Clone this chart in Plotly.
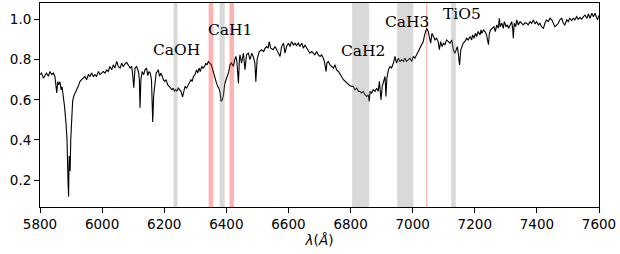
import plotly.graph_objects as go

wavelength = [
    5800, 5805, 5811, 5816, 5821, 5827, 5832, 5838, 5843, 5848, 5852, 5854, 5857, 5860, 5864, 5868,
    5871, 5875, 5879, 5884, 5887, 5890, 5892, 5894, 5897, 5899, 5902, 5905, 5909, 5914, 5918, 5923,
    5929, 5934, 5940, 5945, 5950, 5956, 5961, 5966, 5972, 5977, 5982, 5988, 5993, 5999, 6004, 6009,
    6015, 6020, 6025, 6031, 6036, 6041, 6047, 6052, 6058, 6063, 6068, 6074, 6079, 6084, 6090, 6095,
    6098, 6102, 6106, 6111, 6117, 6120, 6122, 6125, 6129, 6134, 6138, 6143, 6147, 6151, 6155, 6159,
    6161, 6163, 6166, 6170, 6174, 6178, 6181, 6185, 6189, 6193, 6197, 6202, 6206, 6211, 6216, 6220,
    6225, 6229, 6233, 6237, 6241, 6245, 6250, 6254, 6259, 6263, 6267, 6272, 6277, 6281, 6286, 6290,
    6294, 6299, 6304, 6308, 6312, 6316, 6321, 6325, 6330, 6334, 6338, 6342, 6347, 6351, 6355, 6359,
    6363, 6367, 6372, 6376, 6380, 6383, 6387, 6391, 6395, 6399, 6403, 6408, 6412, 6416, 6420, 6423,
    6427, 6431, 6434, 6437, 6439, 6442, 6444, 6449, 6455, 6460, 6465, 6471, 6476, 6482, 6487, 6492,
    6495, 6499, 6506, 6514, 6520, 6525, 6530, 6535, 6538, 6543, 6551, 6557, 6562, 6567, 6573, 6578,
    6584, 6589, 6594, 6600, 6605, 6610, 6616, 6621, 6626, 6632, 6637, 6643, 6648, 6653, 6659, 6664,
    6669, 6675, 6680, 6685, 6691, 6696, 6702, 6707, 6712, 6716, 6719, 6721, 6724, 6728, 6734, 6739,
    6745, 6750, 6755, 6761, 6766, 6771, 6777, 6782, 6788, 6793, 6798, 6804, 6809, 6814, 6820, 6825,
    6830, 6836, 6841, 6846, 6852, 6857, 6860, 6863, 6868, 6873, 6879, 6884, 6889, 6893, 6898, 6902,
    6907, 6911, 6914, 6917, 6922, 6927, 6932, 6938, 6943, 6948, 6954, 6959, 6964, 6970, 6975, 6980,
    6986, 6991, 6997, 7002, 7007, 7013, 7018, 7023, 7029, 7034, 7038, 7042, 7045, 7050, 7054, 7058,
    7062, 7067, 7072, 7077, 7082, 7086, 7090, 7095, 7099, 7104, 7109, 7115, 7120, 7126, 7131, 7136,
    7140, 7144, 7148, 7151, 7155, 7159, 7163, 7168, 7174, 7179, 7185, 7190, 7193, 7198, 7202, 7206,
    7211, 7217, 7220, 7223, 7228, 7233, 7238, 7244, 7247, 7251, 7258, 7262, 7266, 7271, 7276, 7279,
    7282, 7287, 7292, 7295, 7301, 7305, 7309, 7313, 7319, 7322, 7324, 7327, 7332, 7335, 7340, 7346,
    7351, 7356, 7362, 7367, 7372, 7378, 7383, 7389, 7394, 7399, 7405, 7410, 7415, 7421, 7426, 7431,
    7437, 7442, 7448, 7453, 7458, 7464, 7469, 7474, 7480, 7485, 7490, 7496, 7501, 7506, 7512, 7517,
    7522, 7528, 7533, 7539, 7544, 7550, 7555, 7561, 7566, 7571, 7577, 7582, 7587, 7595, 7598, 7600,
]

flux = [
    0.725, 0.733, 0.708, 0.725, 0.733, 0.717, 0.741, 0.725, 0.733, 0.716, 0.670, 0.634, 0.690, 0.675, 0.690, 0.650,
    0.665, 0.617, 0.567, 0.477, 0.402, 0.204, 0.118, 0.320, 0.245, 0.400, 0.551, 0.592, 0.620, 0.642, 0.650, 0.667,
    0.692, 0.700, 0.708, 0.716, 0.700, 0.725, 0.716, 0.733, 0.716, 0.725, 0.716, 0.741, 0.725, 0.733, 0.741, 0.733,
    0.749, 0.741, 0.766, 0.749, 0.774, 0.758, 0.791, 0.766, 0.758, 0.782, 0.766, 0.779, 0.786, 0.774, 0.758, 0.766,
    0.733, 0.660, 0.758, 0.766, 0.741, 0.700, 0.560, 0.700, 0.741, 0.725, 0.749, 0.758, 0.720, 0.741, 0.733, 0.700,
    0.600, 0.490, 0.620, 0.700, 0.733, 0.741, 0.750, 0.716, 0.733, 0.720, 0.700, 0.692, 0.700, 0.675, 0.667, 0.658,
    0.650, 0.658, 0.642, 0.650, 0.642, 0.658, 0.650, 0.642, 0.615, 0.650, 0.667, 0.658, 0.675, 0.683, 0.700, 0.692,
    0.716, 0.725, 0.749, 0.733, 0.758, 0.741, 0.766, 0.758, 0.766, 0.782, 0.774, 0.790, 0.783, 0.775, 0.758, 0.733,
    0.700, 0.690, 0.667, 0.658, 0.634, 0.592, 0.600, 0.627, 0.680, 0.700, 0.716, 0.741, 0.774, 0.783, 0.775, 0.766,
    0.800, 0.816, 0.790, 0.740, 0.683, 0.800, 0.824, 0.783, 0.832, 0.750, 0.824, 0.832, 0.800, 0.832, 0.813, 0.783,
    0.690, 0.800, 0.840, 0.849, 0.840, 0.857, 0.865, 0.857, 0.890, 0.857, 0.849, 0.865, 0.849, 0.832, 0.816, 0.865,
    0.882, 0.832, 0.865, 0.882, 0.865, 0.890, 0.873, 0.882, 0.870, 0.882, 0.865, 0.882, 0.857, 0.873, 0.857, 0.849,
    0.832, 0.840, 0.832, 0.824, 0.840, 0.824, 0.816, 0.824, 0.807, 0.790, 0.760, 0.741, 0.783, 0.791, 0.774, 0.766,
    0.758, 0.774, 0.749, 0.741, 0.725, 0.716, 0.700, 0.692, 0.683, 0.675, 0.670, 0.667, 0.667, 0.650, 0.658, 0.642,
    0.642, 0.634, 0.642, 0.625, 0.617, 0.625, 0.592, 0.642, 0.634, 0.650, 0.642, 0.658, 0.642, 0.692, 0.600, 0.667,
    0.692, 0.716, 0.617, 0.708, 0.749, 0.766, 0.758, 0.783, 0.816, 0.783, 0.807, 0.791, 0.799, 0.791, 0.807, 0.791,
    0.799, 0.807, 0.791, 0.816, 0.807, 0.825, 0.840, 0.850, 0.870, 0.890, 0.920, 0.940, 0.956, 0.940, 0.915, 0.882,
    0.931, 0.915, 0.898, 0.907, 0.890, 0.849, 0.890, 0.865, 0.882, 0.874, 0.898, 0.890, 0.882, 0.898, 0.849, 0.832,
    0.849, 0.865, 0.816, 0.774, 0.849, 0.865, 0.882, 0.890, 0.907, 0.898, 0.915, 0.898, 0.923, 0.907, 0.931, 0.915,
    0.940, 0.923, 0.948, 0.931, 0.948, 0.940, 0.923, 0.874, 0.931, 0.948, 0.956, 0.964, 0.940, 0.973, 0.956, 1.006,
    0.964, 0.981, 0.956, 0.989, 0.964, 0.973, 0.956, 0.973, 0.989, 0.956, 0.907, 0.981, 0.964, 0.998, 0.973, 0.989,
    0.981, 0.973, 0.984, 0.981, 0.973, 0.989, 0.981, 0.998, 0.978, 0.989, 0.973, 0.981, 0.964, 0.956, 0.981, 0.998,
    0.989, 1.006, 0.998, 0.981, 0.964, 0.973, 0.981, 0.998, 1.006, 0.981, 0.973, 0.998, 0.989, 1.006, 0.994, 1.006,
    0.998, 1.014, 1.001, 1.011, 1.001, 1.014, 1.022, 1.006, 1.027, 1.006, 1.031, 1.014, 1.031, 0.998, 1.014, 1.020,
]

# index bands (gray) and continuum bands (red)
gray_bands = [(6230, 6243), (6378, 6395), (6805, 6860), (6950, 7002), (7124, 7139)]
red_bands = [(6343, 6358), (6410, 6425), (7043, 7047)]

band_labels = ["CaOH", "CaH1", "CaH2", "CaH3", "TiO5"]
label_x = [6240, 6413, 6840, 6981, 7160]
label_y = [0.846, 0.946, 0.845, 0.985, 1.026]

fig = go.Figure()
fig.add_trace(go.Scatter(x=wavelength, y=flux, mode="lines",
                         line=dict(color="black", width=1.1), showlegend=False,
                         hoverinfo="skip"))

for x0, x1 in gray_bands:
    fig.add_vrect(x0=x0, x1=x1, fillcolor="rgba(128,128,128,0.3)", line_width=0, layer="above")
for x0, x1 in red_bands:
    fig.add_vrect(x0=x0, x1=x1, fillcolor="rgba(255,0,0,0.3)", line_width=0, layer="above")

for t, x, y in zip(band_labels, label_x, label_y):
    fig.add_annotation(x=x, y=y, text=t, showarrow=False, xanchor="center", yanchor="middle",
                       font=dict(family="DejaVu Serif", size=15.5, color="black"))

axis_common = dict(showgrid=False, zeroline=False, showline=True, linecolor="black", linewidth=1,
                   mirror=True, ticks="outside", ticklen=5, tickwidth=1, tickcolor="black",
                   tickfont=dict(family="DejaVu Sans", size=13.5, color="black"))

fig.update_xaxes(range=[5800, 7600], tickvals=[5800, 6000, 6200, 6400, 6600, 6800, 7000, 7200, 7400, 7600],
                 title=dict(text="<i>λ</i>(<i>Å</i>)", font=dict(family="DejaVu Sans", size=13.5, color="black"),
                            standoff=4),
                 **axis_common)
fig.update_yaxes(range=[0.066, 1.082], tickvals=[0.2, 0.4, 0.6, 0.8, 1.0], tickformat=".1f",
                 **axis_common)

fig.update_layout(width=620, height=254, margin=dict(l=40, r=21, t=3, b=47),
                  plot_bgcolor="white", paper_bgcolor="white")

fig.write_html("out.html", config={"displayModeBar": False, "staticPlot": True},
               post_script="document.body.style.margin='0';document.body.style.padding='0';"
                           "document.body.style.overflow='hidden';")
